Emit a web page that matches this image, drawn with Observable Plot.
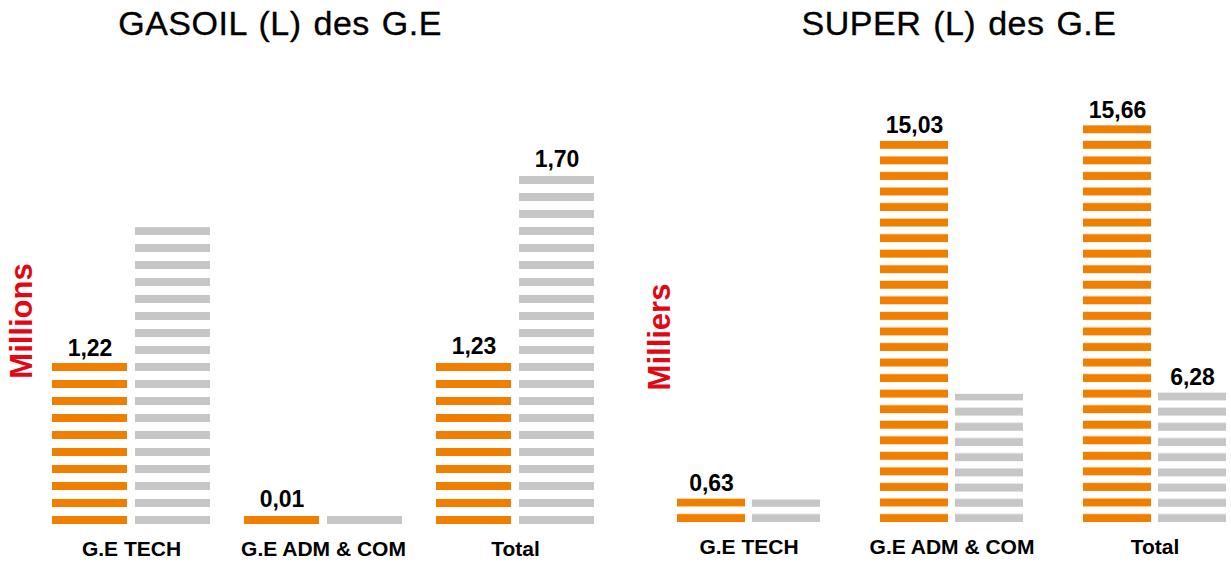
<!DOCTYPE html>
<html><head><meta charset="utf-8">
<script src="https://cdn.jsdelivr.net/npm/d3@7"></script>
<script src="https://cdn.jsdelivr.net/npm/@observablehq/plot@0.6"></script>
<style>
body{margin:0;background:#fff;font-family:"Liberation Sans",Arial,sans-serif;}
#wrap{position:relative;width:1231px;height:564px;overflow:hidden;background:#fff;}
.title{position:absolute;top:4px;font-size:34px;color:#000;white-space:nowrap;transform:translateX(-50%);letter-spacing:0.5px;word-spacing:2px;-webkit-text-stroke:0.35px #000;}
.unit{position:absolute;color:#e30613;font-weight:bold;font-size:31px;transform:translate(-50%,-50%) rotate(-90deg);white-space:nowrap;}
.panel{position:absolute;top:0;}
</style></head><body><div id="wrap"></div>
<script>
// ---- data ----
const categories = ["G.E TECH", "G.E ADM & COM", "Total"];
const series = ["orange", "gris"];
const gasoilOrange = [1.22, 0.01, 1.23];
const gasoilGray = [1.44, 0.01, 1.70];
const gasoilGrayLabelled = [false, false, true];
const superOrange = [0.63, 15.03, 15.66];
const superGray = [0.75, 6.2, 6.28];
const superGrayLabelled = [false, false, true];
const titles = ["GASOIL (L) des G.E", "SUPER (L) des G.E"];
const units = ["Millions", "Milliers"];

const ORANGE = "#f07f00", GRAY = "#c6c6c6";
const fmt = v => v.toFixed(2).replace(".", ",");

const wrap = document.getElementById("wrap");

function rows(vals, s, labelled) {
  return categories.map((c, i) => ({category: c, series: s, value: vals[i], label: labelled ? (labelled[i] ? fmt(vals[i]) : "") : fmt(vals[i])}));
}

function addPattern(svg, id, color, pitch, baseline) {
  const ns = "http://www.w3.org/2000/svg";
  const defs = document.createElementNS(ns, "defs");
  const p = document.createElementNS(ns, "pattern");
  p.setAttribute("id", id);
  p.setAttribute("patternUnits", "userSpaceOnUse");
  p.setAttribute("x", 0);
  p.setAttribute("y", baseline - pitch);
  p.setAttribute("width", 2000);
  p.setAttribute("height", pitch);
  const r = document.createElementNS(ns, "rect");
  r.setAttribute("x", 0);
  r.setAttribute("y", pitch - 8);
  r.setAttribute("width", 2000);
  r.setAttribute("height", 8);
  r.setAttribute("fill", color);
  p.appendChild(r);
  defs.appendChild(p);
  svg.insertBefore(defs, svg.firstChild);
}

function panel(cfg) {
  const common = {
    width: cfg.width, height: 564,
    marginLeft: cfg.marginLeft, marginRight: cfg.marginRight,
    marginTop: 0, marginBottom: 564 - cfg.baseline,
    fx: {domain: categories, paddingInner: cfg.fxPad, paddingOuter: 0},
    x: {domain: series, paddingInner: cfg.xPad, paddingOuter: 0, axis: null},
    style: {fontFamily: "'Liberation Sans', Arial, sans-serif", background: "transparent", overflow: "visible"}
  };
  const o = Plot.plot({
    ...common,
    y: {domain: [0, cfg.orangeMax], axis: null},
    marks: [
      Plot.rectY(rows(cfg.orange, "orange"), {fx: "category", x: "series", y: "value", fill: `url(#${cfg.id}o)`, insetTop: -8}),
      Plot.text(rows(cfg.orange, "orange"), {fx: "category", x: "series", y: "value", text: "label", lineAnchor: "bottom", dy: -16, fontSize: 23, fontWeight: "bold", fill: "#000"}),
      Plot.axisFx({anchor: "bottom", tickSize: 0, tickPadding: 17, label: null, fontSize: 21, fontWeight: "bold", fill: "#000"})
    ]
  });
  const g = Plot.plot({
    ...common,
    fx: {...common.fx, axis: null},
    y: {domain: [0, cfg.grayMax], axis: null},
    marks: [
      Plot.rectY(rows(cfg.gray, "gris"), {fx: "category", x: "series", y: "value", fill: `url(#${cfg.id}g)`, insetTop: -8}),
      Plot.text(rows(cfg.gray, "gris", cfg.grayLabelled), {fx: "category", x: "series", y: "value", text: "label", lineAnchor: "bottom", dy: -16, fontSize: 23, fontWeight: "bold", fill: "#000"})
    ]
  });
  addPattern(o, cfg.id + "o", ORANGE, cfg.pitchO, cfg.baseline);
  addPattern(g, cfg.id + "g", GRAY, cfg.pitchG, cfg.baseline);
  for (const s of [g, o]) {
    s.classList.add("panel");
    s.style.left = cfg.left + "px";
    wrap.appendChild(s);
  }
  const t = document.createElement("div");
  t.className = "title"; t.textContent = cfg.title; t.style.left = cfg.titleX + "px";
  wrap.appendChild(t);
  const u = document.createElement("div");
  u.className = "unit"; u.textContent = cfg.unit; u.style.left = cfg.unitX + "px"; u.style.top = cfg.unitY + "px";
  wrap.appendChild(u);
}

panel({id: "gas", left: 0, width: 615, marginLeft: 50, marginRight: 20, baseline: 524,
  fxPad: 0.169, xPad: 0.095, pitchO: 17, pitchG: 17,
  orange: gasoilOrange, gray: gasoilGray, grayLabelled: gasoilGrayLabelled,
  orangeMax: 524 / 125.4, grayMax: 524 / 200.6,
  title: titles[0], titleX: 280, unit: units[0], unitX: 22, unitY: 321});

panel({id: "sup", left: 615, width: 616, marginLeft: 61, marginRight: 4, baseline: 522,
  fxPad: 0.286, xPad: 0.092, pitchO: 15.55, pitchG: 15.2,
  orange: superOrange, gray: superGray, grayLabelled: superGrayLabelled,
  orangeMax: 522 / 24.84, grayMax: 522 / 19.38,
  title: titles[1], titleX: 959, unit: units[1], unitX: 660, unitY: 337});
</script></body></html>
